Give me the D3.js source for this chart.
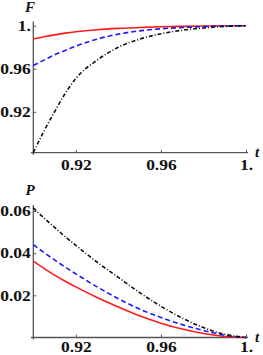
<!DOCTYPE html>
<html lang="en">
<head>
    <meta charset="UTF-8">
    <script src="https://cdnjs.cloudflare.com/ajax/libs/d3/7.8.4/d3.min.js"></script>
    <title>F and P</title>
    <style>body { margin: 0; background: #fff; }</style>
</head>
<body>
</body>
<script>
// sample points of t, shared by all curves
const tValues = [0.9, 0.905, 0.91, 0.915, 0.92, 0.93, 0.94, 0.95, 0.96, 0.97, 0.98, 0.99, 1.0]

// top panel, F
const fRed   = [0.9876, 0.9897, 0.9915, 0.9931, 0.9944, 0.9963, 0.9975, 0.9983, 0.9990, 0.9994, 0.9997, 0.9999, 1.0]
const fBlue  = [0.963, 0.968, 0.973, 0.977, 0.981, 0.9875, 0.9922, 0.9952, 0.9971, 0.9983, 0.9991, 0.9997, 1.0]
const fBlack = [0.882, 0.902, 0.920, 0.937, 0.951, 0.968, 0.980, 0.9875, 0.9925, 0.9958, 0.9979, 0.9993, 1.0]

// bottom panel, P
const pRed   = [0.0362, 0.0328, 0.0296, 0.0267, 0.0240, 0.0190, 0.0145, 0.0103, 0.0068, 0.0040, 0.0019, 0.0005, 0]
const pBlue  = [0.0440, 0.0403, 0.0368, 0.0334, 0.0302, 0.0240, 0.0184, 0.0135, 0.0095, 0.0061, 0.0033, 0.0011, 0]
const pBlack = [0.0615, 0.0567, 0.0522, 0.0478, 0.0437, 0.0357, 0.0285, 0.0213, 0.0148, 0.0092, 0.0047, 0.0015, 0]

const xTicks = [0.92, 0.96, 1.0]
const xTickLabels = ["0.92", "0.96", "1."]
const fTicks = [0.92, 0.96, 1.0]
const fTickLabels = ["0.92", "0.96", "1."]
const pTicks = [0.02, 0.04, 0.06]
const pTickLabels = ["0.02", "0.04", "0.06"]

const styles = [
  { color: "#ff1a1a", dash: null },
  { color: "#1a1aff", dash: "5,3" },
  { color: "#111", dash: "4,2,1,2" }
]

let svg = d3.select("body").append("svg")
  .attr("width", 263)
  .attr("height", 355)

const font = "Liberation Serif, Times New Roman, serif"

function panel(opts) {
  let x = d3.scaleLinear().domain([0.9, 1.0]).range([33.3, 246])
  let y = d3.scaleLinear().domain(opts.domain).range(opts.range)
  let g = svg.append("g")

  // axes, Mathematica style: ticks pointing inward
  let xAxis = g.append("g")
    .attr("transform", `translate(0, ${opts.range[0]})`)
    .call(d3.axisBottom(x).tickValues(xTicks).tickSize(-3).tickSizeOuter(0)
      .tickFormat((d, i) => xTickLabels[i]))
  xAxis.select(".domain").remove()
  xAxis.append("line")
    .attr("x1", 31).attr("x2", 248)
    .attr("stroke", "#555").attr("stroke-width", 1.3)
  xAxis.selectAll(".tick line").attr("stroke", "#555")
  xAxis.selectAll(".tick text")
    .attr("y", opts.labelDrop).attr("dy", null)
    .attr("transform", "scale(1.25,1)")

  let yAxis = g.append("g")
    .attr("transform", "translate(33.3, 0)")
    .call(d3.axisLeft(y).tickValues(opts.ticks).tickSize(-3).tickSizeOuter(0)
      .tickFormat((d, i) => opts.labels[i]))
  yAxis.select(".domain").remove()
  yAxis.append("line")
    .attr("y1", opts.range[0] + 2).attr("y2", opts.top)
    .attr("stroke", "#555").attr("stroke-width", 1.3)
  yAxis.selectAll(".tick line").attr("stroke", "#555")
  yAxis.selectAll(".tick text")
    .attr("x", -2).attr("dy", "0.34em")
    .attr("transform", "scale(1.25,1)")

  g.selectAll(".tick text")
    .attr("font-family", font)
    .attr("font-weight", "bold")
    .attr("font-size", 14)
    .attr("fill", "#111")

  let line = d3.line()
    .x((d, i) => x(tValues[i]))
    .y(d => y(d))
    .curve(d3.curveMonotoneX)

  opts.series.forEach((s, k) => {
    g.append("path")
      .attr("d", line(s))
      .attr("fill", "none")
      .attr("stroke", styles[k].color)
      .attr("stroke-width", 1.6)
      .attr("stroke-dasharray", styles[k].dash)
  })

  g.append("text")
    .attr("x", opts.nameX).attr("y", opts.nameY)
    .attr("font-family", font).attr("font-style", "italic").attr("font-weight", "bold")
    .attr("font-size", 15).attr("text-anchor", "middle")
    .attr("fill", "#111")
    .text(opts.name)
  g.append("text")
    .attr("x", 257).attr("y", opts.range[0] + 4)
    .attr("font-family", font).attr("font-style", "italic").attr("font-weight", "bold")
    .attr("font-size", 15).attr("text-anchor", "middle")
    .attr("fill", "#111")
    .text("t")
}

panel({
  domain: [0.882, 1.0], range: [152.7, 25.7], top: 21.5, labelDrop: 17.5,
  ticks: fTicks, labels: fTickLabels,
  series: [fRed, fBlue, fBlack],
  name: "F", nameX: 30, nameY: 12
})

panel({
  domain: [0, 0.06], range: [337.5, 211], top: 205, labelDrop: 14.5,
  ticks: pTicks, labels: pTickLabels,
  series: [pRed, pBlue, pBlack],
  name: "P", nameX: 30, nameY: 195
})
</script>
</html>
